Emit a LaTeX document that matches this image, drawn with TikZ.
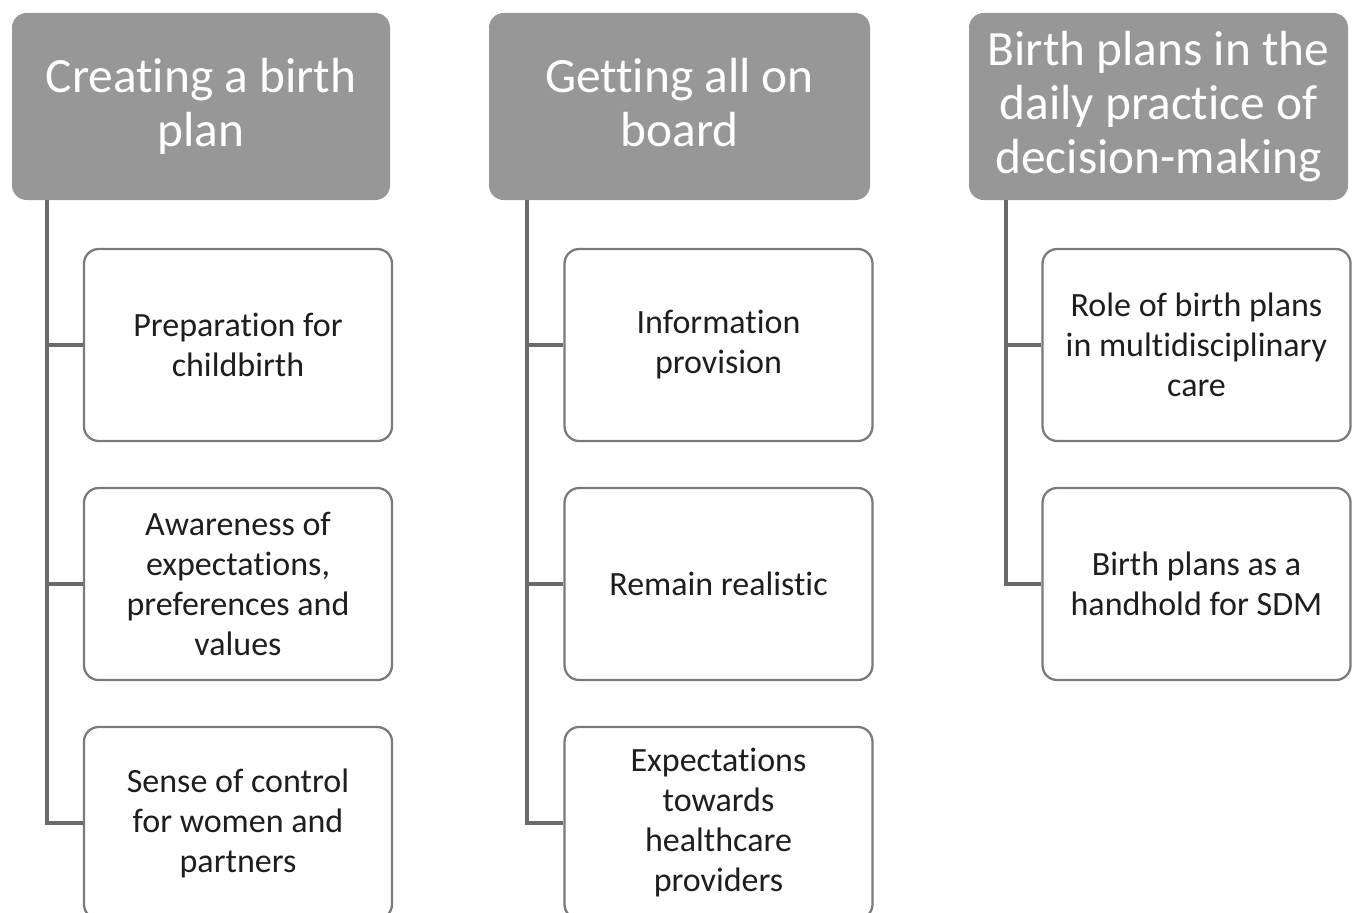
\documentclass[tikz,border=0pt]{standalone}
\usepackage{fontspec}
\setmainfont{Carlito}[Ligatures=NoCommon]
\begin{document}
\begin{tikzpicture}[x=0.75pt,y=-0.75pt,
  head/.style={draw=none,fill=headgray,rounded corners=11pt,minimum width=#1*0.75pt,minimum height=140.25pt,
    text=white,align=center,font=\fontsize{37}{40.5}\selectfont,inner sep=0pt},
  sub/.style={draw=boxgray,line width=1.7pt,fill=white,rounded corners=11pt,minimum width=231pt,minimum height=144pt,
    text=textgray,align=center,font=\fontsize{25.5}{30}\selectfont,inner sep=0pt},
  link/.style={draw=linegray,line width=2.4pt}]
\definecolor{headgray}{HTML}{979797}
\definecolor{boxgray}{HTML}{7A7A7A}
\definecolor{linegray}{HTML}{6A6A6A}
\definecolor{textgray}{HTML}{1E1E1E}
\useasboundingbox (0,0) rectangle (1352,913);
\clip (0,0) rectangle (1352,913);
% headers
\node[head=378] (h1) at (201,106.5) {Creating a birth\\plan};
\node[head=381] (h2) at (679.5,106.5) {Getting all on\\board\vphantom{g}};
\node[head=379] (h3) at (1158.5,106.5) {Birth plans in the\\daily practice of\\decision-making};
% column 1
\node[sub] (a1) at (238,345) {Preparation for\\childbirth};
\node[sub] (a2) at (238,584) {Awareness of\\expectations,\\preferences and\\values};
\node[sub] (a3) at (238,823) {Sense of control\\for women and\\partners};
% column 2
\node[sub] (b1) at (718.5,345) {Information\\provision};
\node[sub] (b2) at (718.5,584) {Remain realistic};
\node[sub] (b3) at (718.5,823) {Expectations\\towards\\healthcare\\providers};
% column 3
\node[sub] (c1) at (1196.5,345) {Role of birth plans\\in multidisciplinary\\care};
\node[sub] (c2) at (1196.5,584) {Birth plans as a\\handhold for SDM};
% connectors
\coordinate (ta) at (47,200);
\coordinate (tb) at (527,200);
\coordinate (tc) at (1006,200);
\draw[link] (ta) |- (a3.west);
\draw[link] (ta |- a1.west) -- (a1.west);
\draw[link] (ta |- a2.west) -- (a2.west);
\draw[link] (tb) |- (b3.west);
\draw[link] (tb |- b1.west) -- (b1.west);
\draw[link] (tb |- b2.west) -- (b2.west);
\draw[link] (tc) |- (c2.west);
\draw[link] (tc |- c1.west) -- (c1.west);
\end{tikzpicture}
\end{document}
